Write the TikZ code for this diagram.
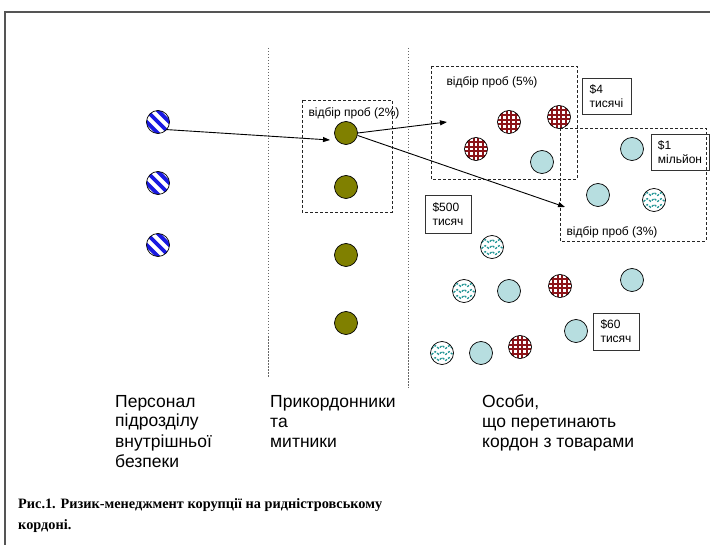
\documentclass[tikz,border=0pt]{standalone}
\usepackage{fontspec}
\setmainfont{Liberation Serif}
\setsansfont{Liberation Sans}
\usetikzlibrary{arrows.meta,decorations.pathmorphing,calc}

\definecolor{stripeblue}{RGB}{25,25,225}
\definecolor{olivefill}{RGB}{128,128,0}
\definecolor{paleteal}{RGB}{183,222,224}
\definecolor{checkred}{RGB}{140,20,25}
\definecolor{waveteal}{RGB}{35,150,150}
\definecolor{framegray}{RGB}{85,85,85}

\begin{document}
\begin{tikzpicture}[x=1pt,y=-1pt,
  token/.style={circle, draw=black, line width=0.7pt, minimum size=23pt, inner sep=0pt},
  striped/.style={token, fill=white, path picture={
      \begin{scope}[shift={(path picture bounding box.center)}]
        \foreach \d in {-5.66,0,5.66}
          \draw[stripeblue, line width=3.8pt] ($(-16pt,16pt)+(\d pt,\d pt)$) -- ($(16pt,-16pt)+(\d pt,\d pt)$);
      \end{scope}}},
  checked/.style={token, fill=white, path picture={
      \begin{scope}[shift={(path picture bounding box.center)}]
        \foreach \d in {-6.9,-2.3,2.3,6.9} {
          \draw[checkred, line width=1.7pt] (\d pt,-16pt) -- (\d pt,16pt);
          \draw[checkred, line width=1.7pt] (-16pt,\d pt) -- (16pt,\d pt);
        }
      \end{scope}}},
  wavy/.style={token, fill=white, path picture={
      \begin{scope}[shift={(path picture bounding box.center)}]
        \foreach \d in {-6,0,6}
          \draw[waveteal, line width=1.3pt, dash pattern=on 2.2pt off 1.3pt,
                decorate, decoration={snake, amplitude=1.4pt, segment length=7pt}]
                (-16pt,\d pt) -- (16pt,\d pt);
      \end{scope}}},
  guard/.style={token, fill=olivefill},
  plain/.style={token, fill=paleteal},
  sampling/.style={draw=black!85, line width=0.8pt, dash pattern=on 3pt off 2pt},
  divider/.style={draw=black!60, line width=0.8pt, dash pattern=on 1.5pt off 1.5pt},
  pricebox/.style={draw=black!80, line width=0.9pt, align=left, inner sep=0pt,
                   font=\sffamily\fontsize{12}{14}\selectfont},
  samplelabel/.style={font=\sffamily\fontsize{12}{14}\selectfont, inner sep=0pt},
  column/.style={font=\sffamily\fontsize{17.5}{20}\selectfont, align=left, inner sep=0pt, anchor=base west},
  arr/.style={draw=black, line width=0.9pt, -{Triangle[length=7pt,width=5pt]}}
]
\useasboundingbox (0,0) rectangle (710,545);

% frame
\draw[framegray, line width=1.5pt] (5,545) -- (5,12) -- (710,12);

% column dividers
\draw[divider] (268,48) -- (268,378);
\draw[divider] (408,48) -- (408,388);

% sampling areas
\draw[sampling] (302,100) rectangle (392,212);
\draw[sampling] (431,66) rectangle (577,179);
\draw[sampling] (560,128) rectangle (706,241);
\node[samplelabel] (s2) at (354,113) {відбір проб (2\%)};
\node[samplelabel] (s5) at (492,82) {відбір проб (5\%)};
\node[samplelabel] (s3) at (612,232) {відбір проб (3\%)};

% internal security staff
\node[striped] (b1) at (158,122) {};
\node[striped] (b2) at (158,183) {};
\node[striped] (b3) at (158,245) {};

% border guards and customs officers
\node[guard] (o1) at (346,133) {};
\node[guard] (o2) at (346,187) {};
\node[guard] (o3) at (346,255) {};
\node[guard] (o4) at (346,323) {};

% people crossing the border
\node[checked] (p1) at (509,122) {};
\node[checked] (p2) at (559,117) {};
\node[checked] (p3) at (476,149) {};
\node[plain]   (p4) at (542,162) {};
\node[plain]   (p5) at (632,149) {};
\node[plain]   (p6) at (598,195) {};
\node[wavy]    (p7) at (654,200) {};
\node[wavy]    (p8) at (492,247) {};
\node[wavy]    (p9) at (464,291) {};
\node[plain]   (p10) at (509,291) {};
\node[checked] (p11) at (560,286) {};
\node[plain]   (p12) at (632,280) {};
\node[plain]   (p13) at (576,331) {};
\node[wavy]    (p14) at (442,353) {};
\node[plain]   (p15) at (481,353) {};
\node[checked] (p16) at (520,347) {};

% bribe amounts
\node[pricebox, minimum width=49pt, minimum height=36pt] (m4) at (606.5,96) {\$4\\тисячі};
\node[pricebox, minimum width=58pt, minimum height=36pt] (m1) at (680,152) {\$1\\мільйон};
\node[pricebox, minimum width=46pt, minimum height=38pt] (m500) at (448,214) {\$500\\тисяч};
\node[pricebox, minimum width=46pt, minimum height=37pt] (m60) at (616,331.5) {\$60\\тисяч};

% control links
\coordinate (t1) at (330,140);
\coordinate (t2) at (447,122);
\coordinate (t3) at (565,207);
\draw[arr] (b1.-40) -- (t1);
\draw[arr] (o1.east) -- (t2);
\draw[arr] (o1.-12) -- (t3);

% column captions (anchored at the baseline of their last line)
\node[column] (c1) at (115,467) {Персонал\\підрозділу\\внутрішньої\\безпеки};
\node[column] (c2) at (270,447) {Прикордонники\\та\\митники};
\node[column] (c3) at (482,447) {Особи,\\що перетинають\\кордон з товарами};

% figure caption
\node[font=\bfseries\fontsize{14.3}{21}\selectfont, align=left, inner sep=0pt, anchor=base west]
  (cap) at (18,529) {Рис.1. Ризик-менеджмент корупції на ридністровському\\кордоні.};
\end{tikzpicture}
\end{document}
